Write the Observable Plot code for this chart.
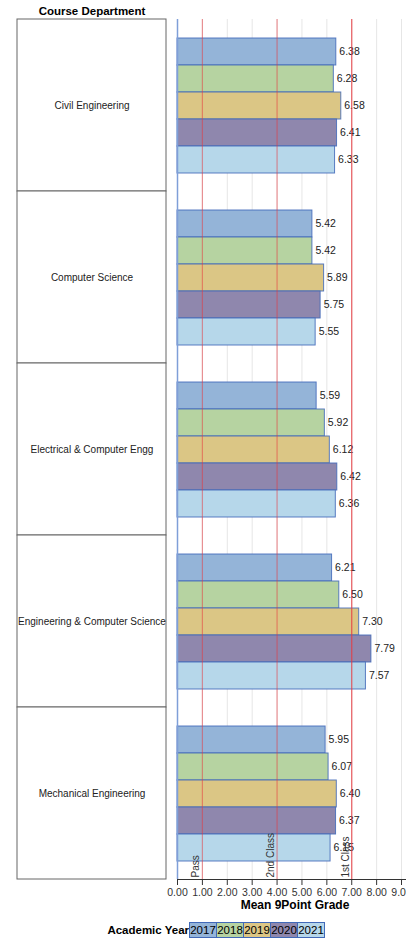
<!DOCTYPE html>
<html>
<head>
<meta charset="utf-8">
<script src="https://cdn.jsdelivr.net/npm/d3@7"></script>
<script src="https://cdn.jsdelivr.net/npm/@observablehq/plot@0.6"></script>
<style>
  html, body { margin: 0; padding: 0; background: #fff; }
  body { width: 406px; height: 939px; overflow: hidden; font-family: "Liberation Sans", Arial, sans-serif; }
  #wrap { position: relative; width: 406px; height: 939px; }
  #left, #right { position: absolute; top: 0; left: 0; }
  #legend { position: absolute; top: 922px; left: 0; width: 406px; display: flex; align-items: center; font-size: 11px; }
  #legend .title { font-weight: bold; width: 189px; text-align: right; padding-right: 1px; font-size: 11.5px; }
  #legend .sw { height: 14px; line-height: 14px; width: 26px; text-align: center; border: 1px solid #4169b8; margin-left: -1px; color: #000; font-size: 11.5px; }
</style>
</head>
<body>
<div id="wrap">
  <div id="left"></div>
  <div id="right"></div>
  <div id="legend"></div>
</div>
<script>
const departments = ["Civil Engineering", "Computer Science", "Electrical & Computer Engg", "Engineering & Computer Science", "Mechanical Engineering"];
const years = ["2017", "2018", "2019", "2020", "2021"];
const yearColors = ["#94b4d8", "#b6d3a1", "#dbc685", "#8f87ad", "#b6d7ea"];
const civilEng = [6.38, 6.28, 6.58, 6.41, 6.33];
const computerSci = [5.42, 5.42, 5.89, 5.75, 5.55];
const electricalEngg = [5.59, 5.92, 6.12, 6.42, 6.36];
const engCompSci = [6.21, 6.50, 7.30, 7.79, 7.57];
const mechEng = [5.95, 6.07, 6.40, 6.37, 6.15];
const refValues = [1, 4, 7];
const refLabels = ["Pass", "2nd Class", "1st Class"];
const refOpacity = [0.5, 0.5, 0.8];
const xTicks = [0, 1, 2, 3, 4, 5, 6, 7, 8, 9];
const xTitle = "Mean 9Point Grade";
const yTitle = "Course Department";
const legendTitle = "Academic Year";

const seriesByDept = [civilEng, computerSci, electricalEngg, engCompSci, mechEng];
const rows = [];
departments.forEach((dept, i) => {
  years.forEach((yr, j) => rows.push({dept, year: yr, value: seriesByDept[i][j]}));
});
const refs = refValues.map((v, i) => ({value: v, label: refLabels[i], op: refOpacity[i]}));
const lastDept = departments[departments.length - 1];

const FONT = "Liberation Sans, Arial, sans-serif";

const left = Plot.plot({
  width: 177, height: 916,
  marginLeft: 17, marginRight: 11, marginTop: 18, marginBottom: 36,
  style: {fontFamily: FONT, fontSize: "11px", color: "#222", background: "transparent", overflow: "visible"},
  x: {domain: [0, 1], axis: null},
  y: {domain: departments, axis: null, padding: 0},
  marks: [
    Plot.barX(departments, {x1: 0, x2: 1, y: d => d, fill: "white", stroke: "#666", strokeWidth: 1}),
    Plot.text(departments, {x: 0.5, y: d => d, text: d => d, fontSize: 10, fill: "#222"}),
    Plot.text([yTitle], {frameAnchor: "top", dy: -12, text: d => d, fontWeight: "bold", fontSize: 11.5, fill: "#000"})
  ]
});
document.getElementById("left").appendChild(left);

const right = Plot.plot({
  width: 406, height: 916,
  marginLeft: 177, marginRight: 0, marginTop: 18, marginBottom: 36,
  style: {fontFamily: FONT, fontSize: "10.5px", color: "#333", background: "transparent", overflow: "visible"},
  x: {domain: [0, 9.2], ticks: xTicks, tickFormat: d => d.toFixed(2), grid: false, label: null, tickSize: 6, line: true},
  y: {domain: years, axis: null, paddingInner: 0, paddingOuter: 0.65},
  fy: {domain: departments, axis: null, padding: 0},
  color: {domain: years, range: yearColors},
  marks: [
    Plot.ruleX(xTicks, {stroke: "#e6e6e6", strokeWidth: 1}),
    Plot.barX(rows, {x: "value", y: "year", fy: "dept", fill: "year", stroke: "#4169b8", strokeOpacity: 0.85, strokeWidth: 1, inset: 0}),
    Plot.text(rows, {x: "value", y: "year", fy: "dept", text: d => d.value.toFixed(2), textAnchor: "start", dx: 3, fontSize: 10.5, fill: "#222"}),
    Plot.ruleX(refs, {x: "value", stroke: "#e8383d", strokeOpacity: "op", strokeWidth: 1.2}),
    Plot.ruleX([0], {stroke: "#7f9fd8", strokeWidth: 1.5}),
    Plot.text(refs, {x: "value", fy: () => lastDept, text: "label", frameAnchor: "bottom", rotate: -90, textAnchor: "start", dx: -3, dy: -2, fontSize: 10, fill: "#333"}),
    Plot.text([xTitle], {fy: () => lastDept, frameAnchor: "bottom", lineAnchor: "middle", dy: 26, dx: 3, text: d => d, fontWeight: "bold", fontSize: 12, fill: "#000"})
  ]
});
document.getElementById("right").appendChild(right);

const legend = document.getElementById("legend");
const lt = document.createElement("span");
lt.className = "title";
lt.textContent = legendTitle;
legend.appendChild(lt);
years.forEach((yr, i) => {
  const s = document.createElement("span");
  s.className = "sw";
  s.style.background = yearColors[i];
  s.textContent = yr;
  legend.appendChild(s);
});
</script>
</body>
</html>
